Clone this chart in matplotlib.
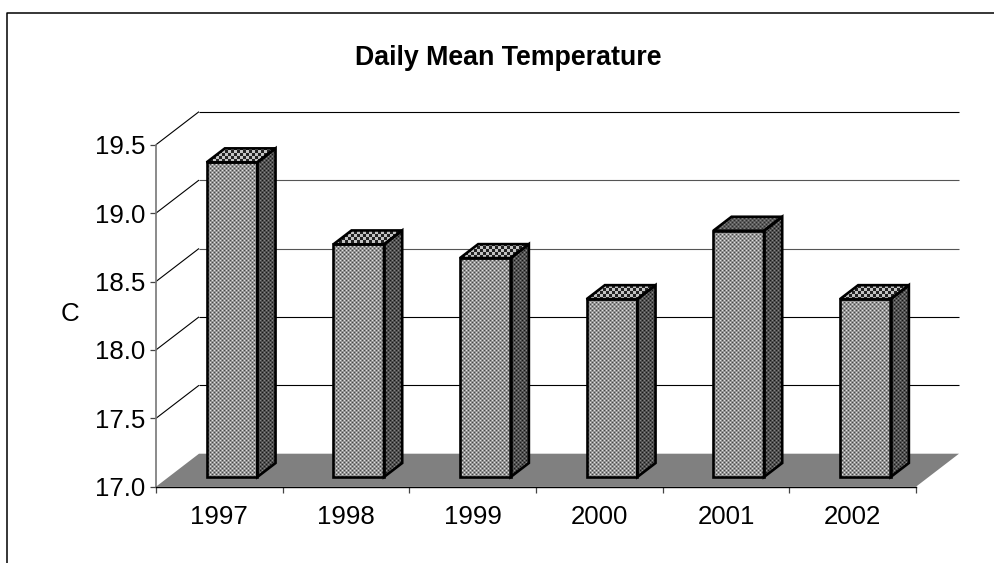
import numpy as np
import matplotlib
matplotlib.use("Agg")
import matplotlib.pyplot as plt
from matplotlib.patches import Polygon
from matplotlib.lines import Line2D

plt.rcParams['font.family'] = ['Liberation Sans', 'DejaVu Sans']

years = ['1997', '1998', '1999', '2000', '2001', '2002']
temps = [19.3, 18.7, 18.6, 18.3, 18.8, 18.3]
y_ticks = [17.0, 17.5, 18.0, 18.5, 19.0, 19.5]
title = 'Daily Mean Temperature'
ylabel = 'C'
top_dark = [False, False, False, False, True, False]

W, H = 995, 563
fig = plt.figure(figsize=(W / 100, H / 100), dpi=100)
fig.patch.set_facecolor('white')

# plot area in pixels (front plane of the chart)
L, R, T, B = 156.0, 916.0, 144.7, 486.7
DX, DY = 43.0, 33.0
ax = fig.add_axes([L / W, 1 - B / H, (R - L) / W, (B - T) / H])
ax.set_xlim(0, len(years))
ax.set_ylim(17.0, 19.5)
ax.set_autoscale_on(False)
ax.patch.set_alpha(0)
for s in ax.spines.values():
    s.set_visible(False)

ux = (R - L) / len(years)
uy = (B - T) / 2.5


def proj(x, v, d):
    """Oblique projection: category x, value v, depth d (0 front .. 1 back)."""
    return (x + d * DX / ux, v + d * DY / uy)


# figure outline
fig.add_artist(Line2D([7.5 / W, 7.5 / W, 1], [0, 1 - 12.5 / H, 1 - 12.5 / H],
                      color='black', lw=1.1, transform=fig.transFigure))

n = len(years)
GRID_KW = dict(lw=0.8, clip_on=False, solid_capstyle='butt')
for i, v in enumerate(y_ticks):
    c = '#000000' if i in (1, 2, 5) else '#555555'
    if v > 17.0:
        a = proj(0, v, 0)
        b = proj(0, v, 1)
        e = proj(n, v, 1)
        ax.plot([a[0], b[0]], [a[1], b[1]], color='black', **GRID_KW)
        ax.plot([b[0], e[0]], [b[1], e[1]], color=c, **GRID_KW)

floor = [proj(0, 17, 0), proj(n, 17, 0), proj(n, 17, 1), proj(0, 17, 1)]
ax.add_patch(Polygon(floor, closed=True, fc='#808080', ec='none', clip_on=False, zorder=2))

# axes lines and ticks
ax.plot([0, 0], [17, 19.5], color='#777777', lw=1.2, clip_on=False, zorder=3)
ax.plot([0, n], [17, 17], color='black', lw=1.0, clip_on=False, zorder=3)
ax.set_yticks(y_ticks)
ax.set_yticklabels([f'{v:.1f}' for v in y_ticks], fontsize=18.6, color='black')
ax.set_xticks(np.arange(n + 1))
ax.set_xticklabels([])
ax.set_xticks(np.arange(n) + 0.5, minor=True)
ax.set_xticklabels(years, minor=True, fontsize=18.6, color='black')
ax.tick_params(axis='y', length=4.5, width=0.9, color='#444444', pad=3)
ax.tick_params(axis='x', which='major', length=4.5, width=0.9, color='#444444')
ax.tick_params(axis='x', which='minor', length=0, pad=13)

ax.set_ylabel(ylabel, fontsize=18.6, rotation=0, labelpad=0, va='center', ha='center')
ax.yaxis.set_label_coords((70 - L) / (R - L), (B - 314) / (B - T))
fig.text(508.5 / W, 1 - 58 / H, title, fontsize=19.3, fontweight='bold', ha='center', va='center')

yy, xx = np.mgrid[0:H, 0:W]


def texture(base, amp, period):
    p = np.cos(2 * np.pi * xx / period) * np.cos(2 * np.pi * yy / period)
    g = np.clip(base + amp * p, 0, 255) / 255.0
    return np.dstack([g, g, g, np.ones_like(g)])


def checker(light, dark, cell):
    m = ((xx // cell + yy // cell) % 2 == 0)
    g = np.where(m, light, dark) / 255.0
    return np.dstack([g, g, g, np.ones_like(g)])


tex_front = texture(148, 75, 4)
tex_side = texture(80, 55, 4)
tex_top = checker(195, 35, 3)
tex_top_dark = texture(90, 45, 4)
extent = (-L / ux, (W - L) / ux, 17 + (B - H) / uy, 17 + B / uy)

W_BAR = 0.40
D0, D1 = 0.294, 0.718


def face(points, tex):
    im = ax.imshow(tex, extent=extent, origin='upper', aspect='auto',
                   interpolation='nearest', zorder=5)
    im.set_clip_path(Polygon(points, closed=True, transform=ax.transData))
    ax.add_patch(Polygon(points, closed=True, fc='none', ec='black', lw=1.9,
                         joinstyle='miter', clip_on=False, zorder=6))


for i, v in enumerate(temps):
    x0 = i + 0.5 - W_BAR / 2
    x1 = i + 0.5 + W_BAR / 2
    front = [proj(x0, 17, D0), proj(x1, 17, D0), proj(x1, v, D0), proj(x0, v, D0)]
    side = [proj(x1, 17, D0), proj(x1, 17, D1), proj(x1, v, D1), proj(x1, v, D0)]
    top = [proj(x0, v, D0), proj(x1, v, D0), proj(x1, v, D1), proj(x0, v, D1)]
    face(side, tex_side)
    face(top, tex_top_dark if top_dark[i] else tex_top)
    face(front, tex_front)

ax.set_xlim(0, n)
ax.set_ylim(17.0, 19.5)
fig.savefig('out.png', dpi=100, facecolor='white')
